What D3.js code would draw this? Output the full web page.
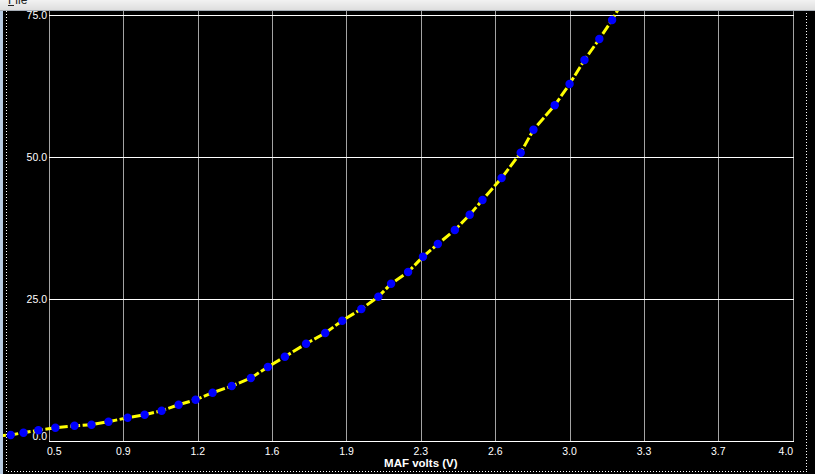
<!DOCTYPE html>
<html><head><meta charset="utf-8">
<script src="https://cdn.jsdelivr.net/npm/d3@7"></script>
<style>body{margin:0;background:#000;overflow:hidden}svg{display:block}</style>
</head><body><svg id="c" width="815" height="474"></svg>
<script>
// ---- data ----
const mafVolts = [0.25, 0.32, 0.38, 0.45, 0.53, 0.62, 0.70, 0.78, 0.87, 0.95, 1.03, 1.11, 1.19,
  1.27, 1.36, 1.45, 1.53, 1.61, 1.71, 1.80, 1.88, 1.97, 2.05, 2.11, 2.19, 2.26, 2.33, 2.41,
  2.48, 2.54, 2.63, 2.72, 2.78, 2.88, 2.95, 3.02, 3.09, 3.15, 3.21];
const airflow = [0.9, 1.06, 1.46, 1.88, 2.34, 2.69, 2.87, 3.40, 4.10, 4.63, 5.33, 6.39, 7.27,
  8.50, 9.68, 11.09, 13.03, 14.84, 17.13, 19.01, 21.18, 23.24, 25.40, 27.69, 29.75, 32.45, 34.68, 37.15,
  39.84, 42.43, 46.30, 50.76, 54.81, 59.10, 62.85, 67.08, 70.77, 74.12, 78.0];
const xTickValues = [0.5, 0.85, 1.2, 1.55, 1.9, 2.25, 2.6, 2.95, 3.3, 3.65, 4.0];
const xTickLabels = ["0.5", "0.9", "1.2", "1.6", "1.9", "2.3", "2.6", "3.0", "3.3", "3.7", "4.0"];
const yTickValues = [0, 25, 50, 75];
const yTickLabels = ["0.0", "25.0", "50.0", "75.0"];
const xTitle = "MAF volts (V)";
const menuLabel = "File";

(function () {
  // ---- layout ----
  const W = 815, H = 474;
  const pLeft = 49, pRight = 792.7, pTop = 15, pBottom = 441;
  const svg = d3.select("#c");
  const x = d3.scaleLinear().domain([0.5, 4.0]).range([pLeft, pRight]);
  const y = d3.scaleLinear().domain([0, 75]).range([pBottom, pTop]);
  const font = "'Liberation Sans', Arial, sans-serif";

  svg.append("rect").attr("width", W).attr("height", H).attr("fill", "#000");

  // vertical gridlines (gray)
  svg.append("g").selectAll("line").data(xTickValues).join("line")
    .attr("x1", d => Math.round(x(d)) + 0.5).attr("x2", d => Math.round(x(d)) + 0.5)
    .attr("y1", 0).attr("y2", pBottom)
    .attr("stroke", "#a4a4a4").attr("stroke-width", 1).attr("shape-rendering", "crispEdges");

  // horizontal gridlines (white)
  svg.append("g").selectAll("line").data(yTickValues.filter(v => v > 0)).join("line")
    .attr("x1", pLeft).attr("x2", Math.round(pRight) + 1)
    .attr("y1", d => Math.round(y(d)) + 0.5).attr("y2", d => Math.round(y(d)) + 0.5)
    .attr("stroke", "#ffffff").attr("stroke-width", 1).attr("shape-rendering", "crispEdges");

  // bottom axis line
  svg.append("line").attr("x1", pLeft).attr("x2", Math.round(pRight) + 1)
    .attr("y1", pBottom + 0.5).attr("y2", pBottom + 0.5)
    .attr("stroke", "#ffffff").attr("stroke-width", 1.3).attr("shape-rendering", "crispEdges");

  // y tick labels
  svg.append("g").selectAll("text").data(yTickValues).join("text")
    .attr("x", pLeft - 2)
    .attr("y", d => Math.min(y(d), pBottom - 4.5))
    .attr("dy", "0.36em")
    .attr("text-anchor", "end")
    .attr("fill", "#fff").attr("font-family", font).attr("font-size", 10.5)
    .text((d, i) => yTickLabels[i]);

  // x tick labels
  const last = xTickValues.length - 1;
  svg.append("g").selectAll("text").data(xTickValues).join("text")
    .attr("x", (d, i) => i === 0 ? x(d) - 2 : (i === last ? x(d) + 0.5 : x(d)))
    .attr("y", 455)
    .attr("text-anchor", (d, i) => i === 0 ? "start" : (i === last ? "end" : "middle"))
    .attr("fill", "#fff").attr("font-family", font).attr("font-size", 10.5)
    .text((d, i) => xTickLabels[i]);

  // axis title
  svg.append("text").attr("x", (pLeft + pRight) / 2).attr("y", 467)
    .attr("text-anchor", "middle").attr("fill", "#fff")
    .attr("font-family", font).attr("font-size", 11.5).attr("font-weight", "bold")
    .text(xTitle);

  // data line + points
  const pts = mafVolts.map((v, i) => [v, airflow[i]]);
  svg.append("path").datum(pts)
    .attr("d", d3.line().x(d => x(d[0])).y(d => y(d[1])))
    .attr("fill", "none").attr("stroke", "#ffff00").attr("stroke-width", 3)
    .attr("stroke-dasharray", "10,2.5");
  svg.append("g").selectAll("circle").data(pts).join("circle")
    .attr("cx", d => x(d[0])).attr("cy", d => y(d[1])).attr("r", 4.2)
    .attr("fill", "#0000ff");

  // dotted focus border
  svg.append("rect").attr("x", 6.5).attr("y", 8.5).attr("width", 800).attr("height", 463)
    .attr("fill", "none").attr("stroke", "#ffffff").attr("stroke-width", 1)
    .attr("stroke-dasharray", "1,2").attr("shape-rendering", "crispEdges");

  // left window strip
  svg.append("rect").attr("x", 0).attr("y", 0).attr("width", 3).attr("height", H).attr("fill", "#b7cbe2");

  // top menu bar
  const grad = svg.append("defs").append("linearGradient").attr("id", "mb")
    .attr("x1", 0).attr("y1", 0).attr("x2", 0).attr("y2", 1);
  grad.append("stop").attr("offset", 0).attr("stop-color", "#f2f2f2");
  grad.append("stop").attr("offset", 1).attr("stop-color", "#dcdcdc");
  svg.append("rect").attr("x", 0).attr("y", 0).attr("width", W).attr("height", 11).attr("fill", "url(#mb)");
  svg.append("line").attr("x1", 0).attr("x2", W).attr("y1", 10.5).attr("y2", 10.5)
    .attr("stroke", "#a7aeb6").attr("stroke-width", 1);
  svg.append("text").attr("x", 8).attr("y", 4).attr("fill", "#222")
    .attr("font-family", font).attr("font-size", 12).text(menuLabel);
  svg.append("line").attr("x1", 8).attr("x2", 14).attr("y1", 5.5).attr("y2", 5.5)
    .attr("stroke", "#222").attr("stroke-width", 1);
})();
</script>
</body></html>
